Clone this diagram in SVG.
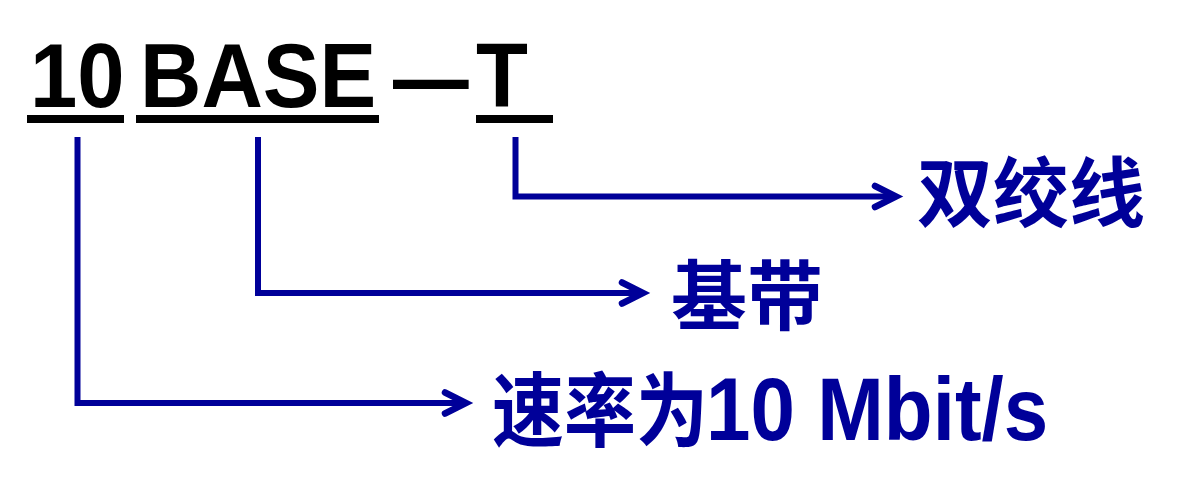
<svg xmlns="http://www.w3.org/2000/svg" width="1203" height="493" viewBox="0 0 1203 493">
<style>
.title{font-family:"Liberation Sans",Arial,sans-serif;font-weight:bold;font-size:85px;fill:#000}
.lbl{font-family:"Liberation Sans","Noto Sans CJK SC",sans-serif;font-weight:bold;font-size:76px;fill:#000099}
.ul{fill:#000}
.conn{fill:none;stroke:#000099;stroke-width:6;stroke-linejoin:miter}
</style>
<defs>
<marker id="arr" markerUnits="userSpaceOnUse" markerWidth="40" markerHeight="40" refX="0" refY="0" orient="auto" viewBox="-30 -20 40 40">
<path d="M-21 -10.5 L0 0 L-21 10.5" fill="none" stroke="#000099" stroke-width="6.5" stroke-linecap="round" stroke-linejoin="miter"/>
</marker>
</defs>
<rect width="1203" height="493" fill="#fff"/>
<g id="title">
<text class="title" transform="translate(30,107) scale(1,1.07)">10</text>
<text class="title" transform="translate(140,107) scale(1,1.07)">BASE</text>
<text class="title" transform="translate(393,109) scale(0.89,1.1)">—</text>
<text class="title" transform="translate(476,107) scale(1,1.07)">T</text>
<rect class="ul" x="27" y="115" width="97" height="8"/>
<rect class="ul" x="136" y="115" width="243" height="8"/>
<rect class="ul" x="476" y="115" width="77" height="8"/>
</g>
<g id="connectors">
<path class="conn" d="M515.5 137 V196.5 H896" marker-end="url(#arr)"/>
<path class="conn" d="M258 137 V293 H643" marker-end="url(#arr)"/>
<path class="conn" d="M77.5 137 V403 H466" marker-end="url(#arr)"/>
</g>
<g id="node-twisted"><text class="lbl" x="917" y="221">双绞线</text></g>
<g id="node-baseband"><text class="lbl" x="671" y="324">基带</text></g>
<g id="node-rate"><text class="lbl" transform="translate(0,440) scale(1,1.12)"><tspan x="492" y="0" style="font-size:72px">速率为</tspan><tspan x="706" y="0" style="font-size:80px">10 Mbit/s</tspan></text></g>
</svg>
